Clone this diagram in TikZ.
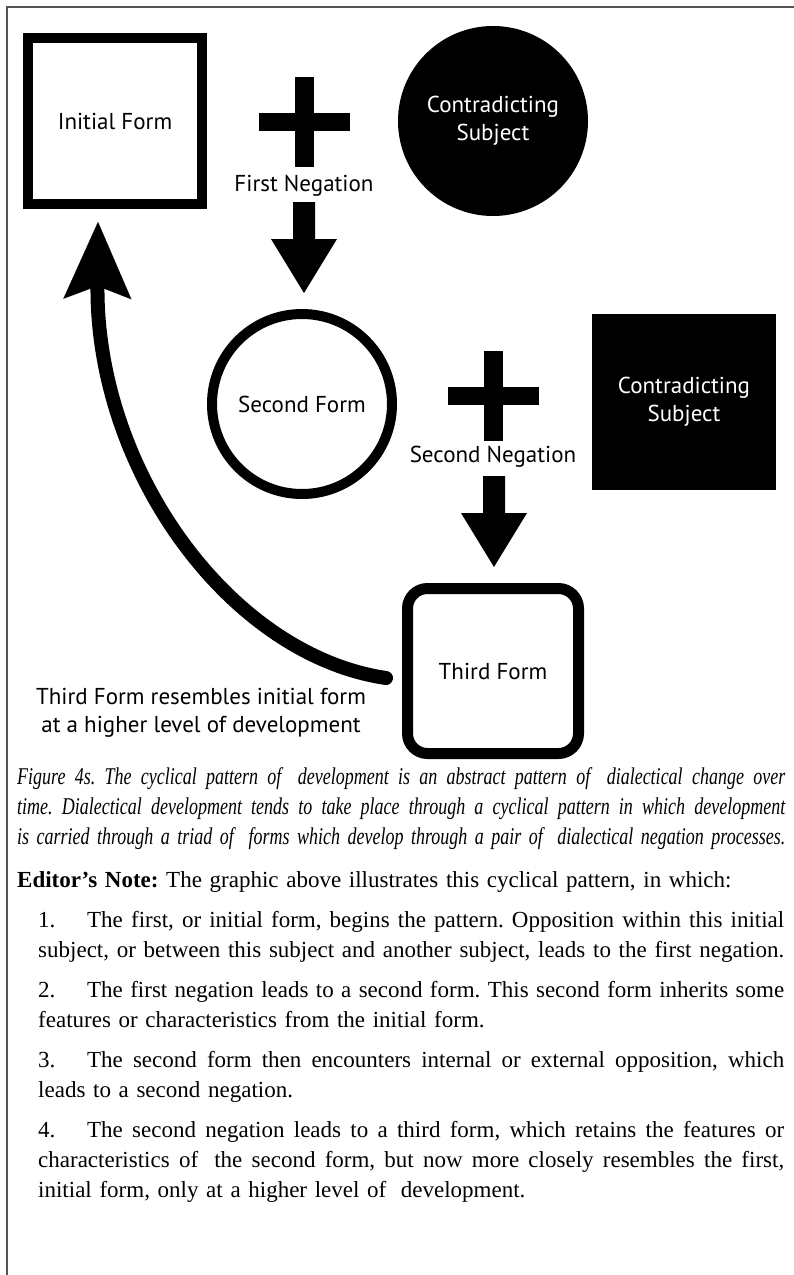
\documentclass[tikz,border=0pt]{standalone}
\usepackage{fontspec}
\setmainfont{Liberation Serif}
\newfontfamily\capfont[FakeStretch=0.75]{Liberation Serif}
\newfontfamily\diagfont{PT Sans}
\usetikzlibrary{arrows.meta}
\frenchspacing

% a line of text justified to the given width (font word spacing restored)
\newcommand\jline[2]{\makebox[#1][s]{\spaceskip=0pt \xspaceskip=0pt #2}}
% item number followed by the gap before the item text
\newcommand\itemno[1]{\makebox[49pt][l]{#1}}

\definecolor{framegrey}{HTML}{555555}

\begin{document}
\begin{tikzpicture}[x=1pt,y=-1pt,
  diagtext/.style={font=\diagfont\fontsize{23}{28}\selectfont, inner sep=0pt},
  form/.style={diagtext, draw=black, fill=white, line width=10pt},
  subject/.style={diagtext, fill=black, text=white, align=center},
  bodytext/.style={inner sep=0pt, anchor=base west, align=left,
    font=\fontsize{23}{30}\selectfont},
  captiontext/.style={bodytext, font=\capfont\itshape\fontsize{24}{30}\selectfont},
  cycle arrow/.style={line width=14pt, line cap=round,
    -{Stealth[length=77pt, width=68pt, inset=13pt, line width=0.01pt]}},
  plus sign/.pic={
    \fill (-9.5,-45) rectangle (9.5,45);
    \fill (-45.5,-9) rectangle (45.5,9);
  },
  block arrow/.pic={
    \fill (-11,0) -- (11,0) -- (11,37) -- (33,37) -- (0,91)
      -- (-33,37) -- (-11,37) -- cycle;
  }
]
\useasboundingbox (0,0) rectangle (793,1275);
\fill[white] (0,0) rectangle (793,1275);

% page frame
\draw[framegrey, line width=2pt] (7,1276) -- (7,7) -- (794,7);

% the three forms
\node[form, minimum width=174pt, minimum height=166pt] (initial) at (115,121) {Initial Form};
\node[form, circle, minimum size=180pt] (second) at (302,404) {Second Form};
\node[form, rounded corners=20pt, line width=11pt,
      minimum width=171pt, minimum height=165pt] (third) at (493,671) {Third Form};

% the contradicting subjects
\node[subject, circle, minimum size=190pt] (subjA) at (493,121) {Contradicting\\Subject};
\node[subject, minimum width=184pt, minimum height=176pt] (subjB) at (684,402) {Contradicting\\Subject};

% first negation
\pic at (304.5,122) {plus sign};
\node[diagtext] (neg1) at (304,186) {First Negation};
\pic at (304,202) {block arrow};

% second negation
\pic at (493.5,395.5) {plus sign};
\node[diagtext] (neg2) at (493,457) {Second Negation};
\pic at (494,476) {block arrow};

% return of the third form to the initial form
\draw[cycle arrow] ([xshift=-16pt,yshift=-7pt]third.west)
  .. controls (230,655) and (96,470) .. ([xshift=-17pt,yshift=-13pt]initial.south);
\node[diagtext, align=center] (resembles) at (201,713)
  {Third Form resembles initial form\\at a higher level of development};

% caption
\node[captiontext, text width=768pt] (caption) at (17,784) {%
\jline{768pt}{Figure 4s. The cyclical pattern of\hspace{0.3em} development is an abstract pattern of\hspace{0.3em} dialectical change over}\\
\jline{768pt}{time. Dialectical development tends to take place through a cyclical pattern in which development}\\
\jline{768pt}{is carried through a triad of\hspace{0.3em} forms which develop through a pair of\hspace{0.3em} dialectical negation processes.}};

% editor's note
\node[bodytext, text width=767pt] (note) at (17,887)
  {\textbf{Editor’s Note:} The graphic above illustrates this cyclical pattern, in which:};

\node[bodytext, text width=746pt] (item1) at (38,927) {%
\jline{746pt}{\itemno{1.}The first, or initial form, begins the pattern. Opposition within this initial}\\
\jline{746pt}{subject, or between this subject and another subject, leads to the first negation.}};

\node[bodytext, text width=746pt] (item2) at (38,997) {%
\jline{746pt}{\itemno{2.}The first negation leads to a second form. This second form inherits some}\\
features or characteristics from the initial form.};

\node[bodytext, text width=746pt] (item3) at (38,1067) {%
\jline{746pt}{\itemno{3.}The second form then encounters internal or external opposition, which}\\
leads to a second negation.};

\node[bodytext, text width=746pt] (item4) at (38,1137) {%
\jline{746pt}{\itemno{4.}The second negation leads to a third form, which retains the features or}\\
\jline{746pt}{characteristics of\hspace{0.3em} the second form, but now more closely resembles the first,}\\
initial form, only at a higher level of\hspace{0.3em} development.};
\end{tikzpicture}
\end{document}
